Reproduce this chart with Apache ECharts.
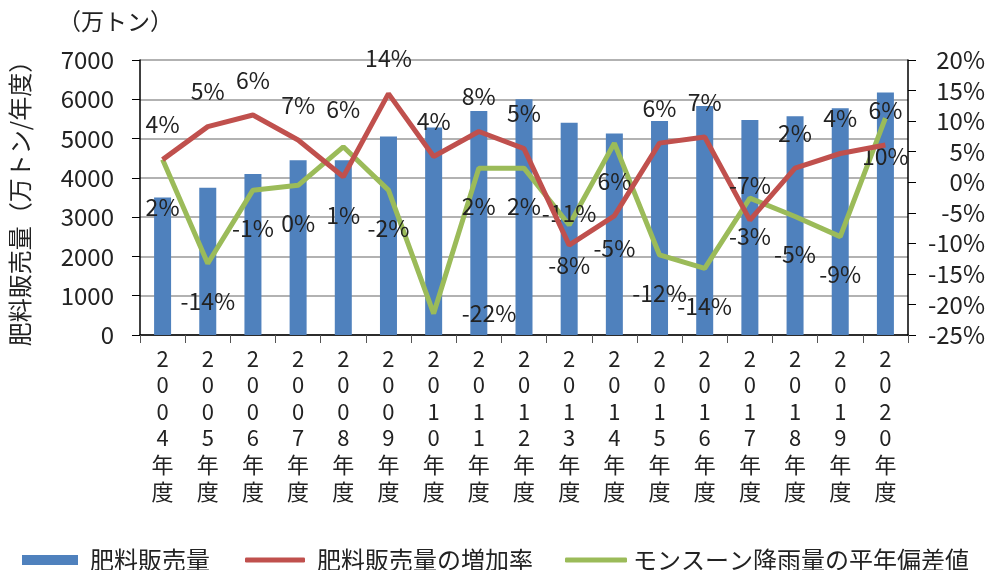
<!DOCTYPE html>
<html><head><meta charset="utf-8">
<script src="https://cdn.jsdelivr.net/npm/echarts@6/dist/echarts.min.js"></script>
<style>html,body{margin:0;padding:0;background:#fff}#c{width:992px;height:570px}</style>
</head><body><div id="c"></div>
<script>
// ---- data ----
const years = ['2004','2005','2006','2007','2008','2009','2010','2011','2012','2013','2014','2015','2016','2017','2018','2019','2020'];
const sales = [3500,3750,4100,4450,4450,5050,5280,5700,6000,5400,5130,5450,5830,5470,5570,5770,6170];
const growthRate = [3.7,9.1,11.0,6.9,0.9,14.5,4.2,8.3,5.5,-10.3,-5.5,6.4,7.4,-6.2,2.3,4.7,6.1];
const rainDev = [3.7,-13.3,-1.3,-0.5,5.8,-1.3,-21.5,2.3,2.3,-7.0,6.4,-11.9,-14.1,-2.6,-5.6,-8.9,10.5];
const growthLabels = ['4%','5%','6%','7%','6%','14%','4%','8%','5%','-8%','-5%','6%','7%','-7%','2%','4%','6%'];
const rainLabels = ['2%','-14%','-1%','0%','1%','-2%','-22%','2%','2%','-11%','6%','-12%','-14%','-3%','-5%','-9%','10%'];
const seriesNames = ['肥料販売量','肥料販売量の増加率','モンスーン降雨量の平年偏差値'];
const leftAxisName = '肥料販売量（万トン/年度）';
const unitText = '（万トン）';

// ---- style ----
const FONT = 'Noto Sans CJK JP';
const TXT = '#222';
const growthLabelStyle = {4:{position:'top',distance:56},9:{position:'bottom',distance:9},10:{position:'bottom',distance:21}};
const rainLabelStyle = {0:{position:'bottom',distance:37},4:{position:'bottom',distance:57},6:{position:'right',distance:28},9:{position:'top',distance:1}};

function buildLine(vals, labels, defPos, defDist, over){
  return vals.map((v,i)=>{
    const o = over[i] || {};
    return {value:v, label:{show:true, position:o.position||defPos, distance:(o.distance!=null?o.distance:defDist),
      formatter:labels[i], fontSize:23, lineHeight:22, fontFamily:FONT, color:TXT}};
  });
}

const legendText = {fontSize:24,fontFamily:FONT,color:TXT,padding:[0,0,0,7]};
const chart = echarts.init(document.getElementById('c'));
chart.setOption({
  animation:false,
  textStyle:{fontFamily:FONT},
  grid:{left:136,right:84,top:60,bottom:235},
  graphic:[{type:'text',left:58,top:10,style:{text:unitText,fontSize:23,fontFamily:FONT,fill:TXT}}],
  legend:[
    {left:17,top:543,data:[seriesNames[0]],itemWidth:56,itemHeight:10,icon:'rect',textStyle:legendText},
    {left:240,top:543,data:[seriesNames[1]],itemWidth:60,itemHeight:5,icon:'roundRect',textStyle:legendText},
    {left:560,top:543,data:[seriesNames[2]],itemWidth:62,itemHeight:5,icon:'roundRect',textStyle:Object.assign({},legendText,{padding:[0,0,0,1]})}
  ],
  xAxis:{type:'category',data:years,boundaryGap:true,
    axisLine:{lineStyle:{color:'#000',width:1.5}},
    axisTick:{show:true,length:8,interval:0,lineStyle:{color:'#555'}},
    axisLabel:{interval:0,margin:10,fontSize:22,lineHeight:26.6,color:TXT,fontFamily:FONT,
      formatter:v=>(v+'年度').split('').join('\n')}},
  yAxis:[
    {type:'value',min:0,max:7000,interval:1000,position:'left',
      name:leftAxisName,nameLocation:'middle',nameRotate:90,nameGap:108,
      nameTextStyle:{fontSize:24,fontFamily:FONT,color:TXT},
      axisLine:{show:true,lineStyle:{color:'#000',width:1.5}},
      axisTick:{show:true,length:8,lineStyle:{color:'#000'}},
      axisLabel:{fontSize:24,color:TXT,fontFamily:FONT,margin:26,formatter:v=>String(v)},
      splitLine:{lineStyle:{color:'#999',width:1.5}}},
    {type:'value',min:-25,max:20,interval:5,position:'right',
      axisLine:{show:true,lineStyle:{color:'#000',width:1.5}},
      axisTick:{show:true,length:8,lineStyle:{color:'#000'}},
      axisLabel:{fontSize:24,color:TXT,fontFamily:FONT,margin:77,align:'right',
        formatter:v=>v+'%'},
      splitLine:{show:false}}
  ],
  series:[
    {name:seriesNames[0],type:'bar',yAxisIndex:0,data:sales,barWidth:17,itemStyle:{color:'#4F81BD'},z:1},
    {name:seriesNames[1],type:'line',yAxisIndex:1,symbol:'circle',symbolSize:0,showSymbol:true,z:3,
      lineStyle:{color:'#C0504D',width:5},itemStyle:{color:'#C0504D'},
      data:buildLine(growthRate,growthLabels,'top',24,growthLabelStyle)},
    {name:seriesNames[2],type:'line',yAxisIndex:1,symbol:'circle',symbolSize:0,showSymbol:true,z:2,
      lineStyle:{color:'#9BBB59',width:5},itemStyle:{color:'#9BBB59'},
      data:buildLine(rainDev,rainLabels,'bottom',27,rainLabelStyle)}
  ]
});
</script>
</body></html>
